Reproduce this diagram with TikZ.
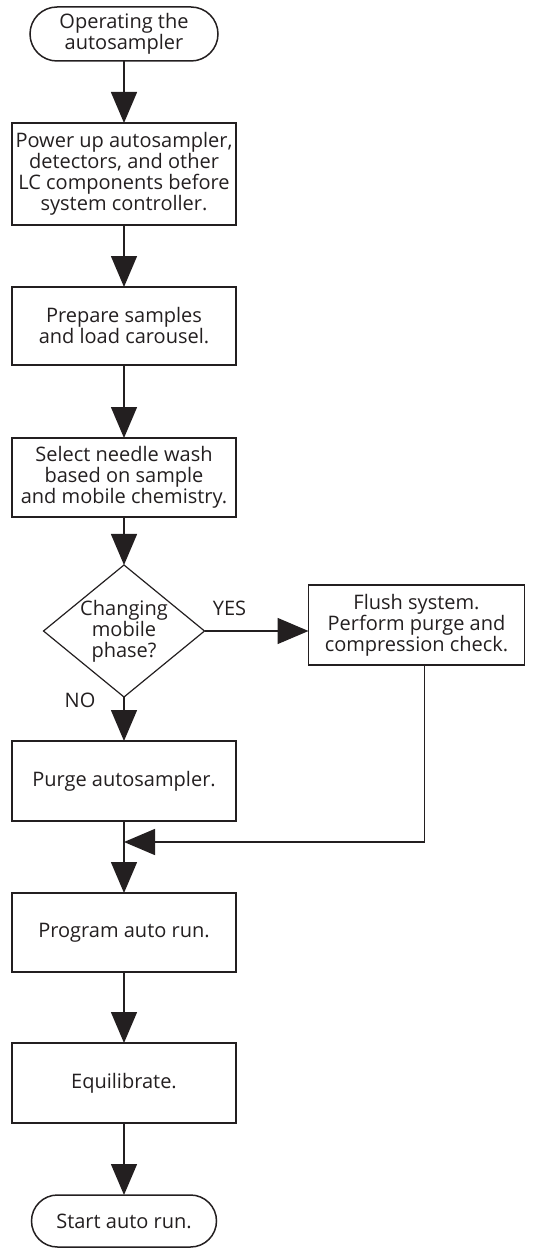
\documentclass[tikz,border=0pt]{standalone}
\usepackage{fontspec}
\setmainfont{Open Sans}
\usepackage{xcolor}
\usetikzlibrary{positioning, calc, arrows.meta, shapes.geometric, shapes.misc}
\definecolor{ink}{RGB}{35,31,32}
\tikzset{
    semithick,
    terminal/.style={rounded rectangle, draw=ink, line width=1.5pt, minimum width=188pt, minimum height=54pt, inner sep=0pt, outer sep=0pt, align=center},
    stepbox/.style={rectangle, draw=ink, line width=1.5pt, minimum width=224pt, inner sep=0pt, outer sep=0pt, align=center},
    decision/.style={diamond, draw=ink, line width=1.2pt, minimum width=161pt, minimum height=132pt, inner sep=0pt, outer sep=0pt},
    flow/.style={-{Triangle[length=31pt, width=26pt]}, draw=ink, line width=1.5pt},
    lbl/.style={font=\fontsize{20}{21}\selectfont, text=ink}
}

\begin{document}
\begin{tikzpicture}[
    font=\fontsize{20}{21}\selectfont,
    text=ink
]
    \useasboundingbox (0,0) rectangle (537pt,-1249pt);

    % Nodes (main column)
    \node[terminal] (start) at (124pt,-34pt) {Operating the\\autosampler};
    \node[stepbox, minimum height=102pt, below=62pt of start] (power) {Power up autosampler,\\detectors, and other\\LC components before\\system controller.};
    \node[stepbox, minimum height=78pt, below=62pt of power] (prep) {Prepare samples\\and load carousel.};
    \node[stepbox, minimum height=79pt, below=73pt of prep] (wash) {Select needle wash\\based on sample\\and mobile chemistry.};
    \node[decision, below=48pt of wash,
        label={[lbl, align=center]center:Changing\\mobile\\phase?}] (dec) {};
    \node[stepbox, minimum width=216pt, minimum height=80pt, right=104pt of dec, yshift=6pt] (flush) {Flush system.\\Perform purge and\\compression check.};
    \node[stepbox, minimum height=80pt, below=44pt of dec] (purge) {Purge autosampler.};
    \coordinate[below=21pt of purge] (mrg);
    \node[stepbox, minimum height=79pt, below=72pt of purge] (prog) {Program auto run.};
    \node[stepbox, minimum height=80pt, below=71pt of prog] (equil) {Equilibrate.};
    \node[terminal, minimum width=185pt, minimum height=52pt, below=72pt of equil] (stop) {Start auto run.};

    % Branch labels
    \node[lbl] (yes) at ([xshift=25pt, yshift=23pt]dec.east) {YES};
    \node[lbl] (no) at ([xshift=-44pt, yshift=-3pt]dec.south) {NO};

    % Edges
    \draw[flow] (start) -- (power);
    \draw[flow] (power) -- (prep);
    \draw[flow] (prep) -- (wash);
    \draw[flow] (wash) -- (dec);
    \draw[flow] (dec.east) -- (dec.east -| flush.west);
    \draw[flow] (dec) -- (purge);
    \draw[flow] ([xshift=8pt]flush.south) |- (mrg);
    \draw[flow] (purge) -- (prog);
    \draw[flow] (prog) -- (equil);
    \draw[flow] (equil) -- (stop);
\end{tikzpicture}
\end{document}
